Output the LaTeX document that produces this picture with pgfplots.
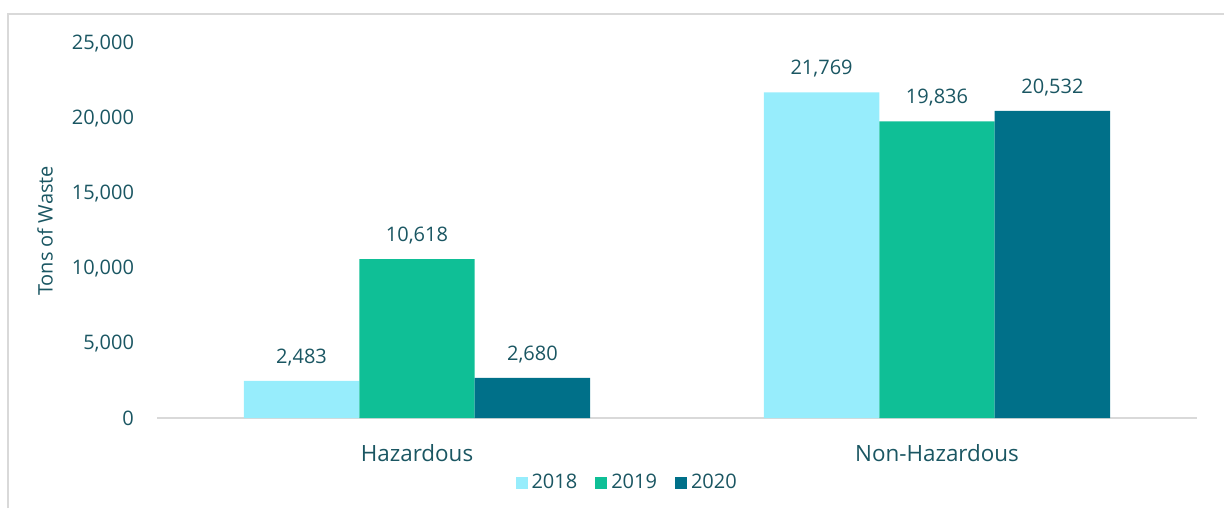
\documentclass[border=0pt]{standalone}
\usepackage{fontspec}
\setmainfont{Open Sans}
\usepackage{pgfplots}
\pgfplotsset{compat=1.18}
\definecolor{c18}{HTML}{97EDFC}
\definecolor{c19}{HTML}{0FBF96}
\definecolor{c20}{HTML}{007089}
\definecolor{txt}{HTML}{1A5662}
\definecolor{framec}{HTML}{D9D9D9}

\begin{document}
\begin{tikzpicture}[x=1pt,y=1pt]
\path[use as bounding box] (0,0) rectangle (612,254);
\draw[framec, line width=0.6pt] (4,0) -- (4,247) -- (612,247);
\begin{axis}[
  at={(78.5pt,45pt)}, anchor=south west,
  scale only axis, width=520pt, height=187pt,
  xmin=-0.5, xmax=1.5, ymin=0, ymax=25000,
  axis x line*=bottom, axis y line*=left,
  x axis line style={-, draw=framec, line width=0.75pt},
  y axis line style={draw=none},
  major tick length=0pt,
  xtick={0,1}, xticklabels={Hazardous,Non-Hazardous},
  ytick={0,5000,...,25000},
  scaled y ticks=false,
  /pgf/number format/assume math mode=true,
  /pgf/number format/fixed, /pgf/number format/precision=0,
  /pgf/number format/1000 sep={,},
  tick label style={font=\fontsize{10}{12}\selectfont, text=txt},
  yticklabel style={anchor=east, xshift=-8pt},
  xticklabel style={anchor=north, yshift=-9.5pt, font=\fontsize{11.2}{13}\selectfont},
  ylabel={Tons of Waste},
  every axis y label/.style={at={(axis description cs:-0.1077,0.5)}, rotate=90, anchor=center,
    font=\fontsize{10}{12}\selectfont, text=txt},
  ybar, bar width=0.222,
  nodes near coords={\pgfmathprintnumber[fixed,precision=0,1000 sep={,}]{\pgfplotspointmeta}},
  every node near coord/.append style={font=\fontsize{10}{12}\selectfont, text=txt, yshift=4pt},
  legend style={at={(axis description cs:0.453,-0.174)}, anchor=center, draw=none,
    font=\fontsize{10}{12}\selectfont, text=txt, legend columns=3,
    /tikz/every even column/.append style={column sep=7pt}},
  legend image code/.code={\fill[#1, draw=none] (0pt,-3pt) rectangle (6pt,3pt);},
]
\addplot[fill=c18, draw=none, bar shift=-0.222] coordinates {(0,2483) (1,21769)};
\addplot[fill=c19, draw=none, bar shift=0] coordinates {(0,10618) (1,19836)};
\addplot[fill=c20, draw=none, bar shift=0.222] coordinates {(0,2680) (1,20532)};
\legend{2018,2019,2020}
\end{axis}
\end{tikzpicture}
\end{document}
